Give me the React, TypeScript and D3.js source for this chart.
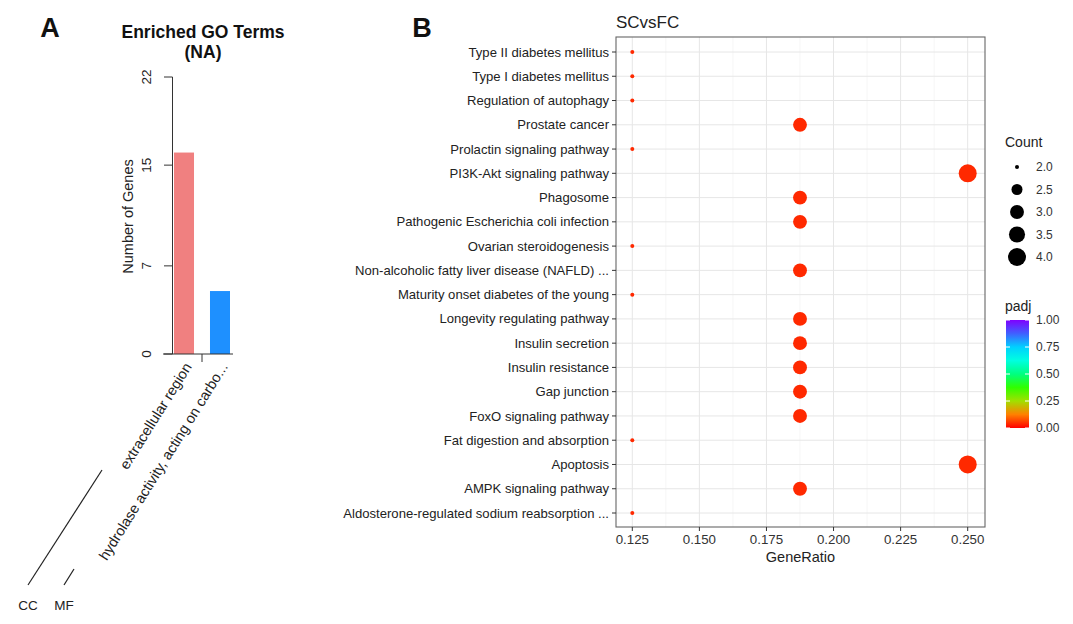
import * as d3 from "d3";
import { useEffect, useRef } from "react";

// Panel A: GO enrichment bars
const goTerms = ["extracellular region", "hydrolase activity, acting on carbo..."];
const goCounts = [16, 5];
const goColors = ["#F08080", "#1E90FF"];
const goTicks = [0, 7, 15, 22];
const goGroups = ["CC", "MF"];

// Panel B: KEGG dot plot, top to bottom
const keggTerms = [
  "Type II diabetes mellitus",
  "Type I diabetes mellitus",
  "Regulation of autophagy",
  "Prostate cancer",
  "Prolactin signaling pathway",
  "PI3K-Akt signaling pathway",
  "Phagosome",
  "Pathogenic Escherichia coli infection",
  "Ovarian steroidogenesis",
  "Non-alcoholic fatty liver disease (NAFLD) ...",
  "Maturity onset diabetes of the young",
  "Longevity regulating pathway",
  "Insulin secretion",
  "Insulin resistance",
  "Gap junction",
  "FoxO signaling pathway",
  "Fat digestion and absorption",
  "Apoptosis",
  "AMPK signaling pathway",
  "Aldosterone-regulated sodium reabsorption ...",
];
const keggCounts = [2, 2, 2, 3, 2, 4, 3, 3, 2, 3, 2, 3, 3, 3, 3, 3, 2, 4, 3, 2];
const keggRatio = [
  0.125, 0.125, 0.125, 0.1875, 0.125, 0.25, 0.1875, 0.1875, 0.125, 0.1875,
  0.125, 0.1875, 0.1875, 0.1875, 0.1875, 0.1875, 0.125, 0.25, 0.1875, 0.125,
];
const keggPadj = [
  0.04, 0.04, 0.04, 0.04, 0.04, 0.04, 0.04, 0.04, 0.04, 0.04,
  0.04, 0.04, 0.04, 0.04, 0.04, 0.04, 0.04, 0.04, 0.04, 0.04,
];
const ratioTicks = [0.125, 0.15, 0.175, 0.2, 0.225, 0.25];
const countLegend = [2.0, 2.5, 3.0, 3.5, 4.0];
const padjTicks = [0, 0.25, 0.5, 0.75, 1];

const FONT = "'Liberation Sans', Arial, Helvetica, sans-serif";

export default function App() {
  const ref = useRef<SVGSVGElement | null>(null);

  useEffect(() => {
    const svg = d3.select(ref.current);
    svg.selectAll("*").remove();
    svg.style("font-family", FONT);

    // ---------- Panel A ----------
    const a = svg.append("g");
    a.append("text").attr("x", 50).attr("y", 37).attr("text-anchor", "middle")
      .attr("font-size", 27).attr("font-weight", "bold").attr("fill", "#111").text("A");
    a.append("text").attr("x", 203).attr("y", 38).attr("text-anchor", "middle")
      .attr("font-size", 17.5).attr("font-weight", "bold").attr("fill", "#111").text("Enriched GO Terms");
    a.append("text").attr("x", 203).attr("y", 58).attr("text-anchor", "middle")
      .attr("font-size", 17.5).attr("font-weight", "bold").attr("fill", "#111").text("(NA)");

    const ay = d3.scaleLinear().domain([0, 22]).range([354, 77]);
    const ax = d3.scaleBand().domain(goTerms).range([174, 230]).paddingInner(0.444).paddingOuter(0);

    // y axis
    a.append("line").attr("x1", 172.5).attr("x2", 172.5).attr("y1", ay(0)).attr("y2", ay(22))
      .attr("stroke", "#333").attr("stroke-width", 1);
    goTicks.forEach((t) => {
      a.append("line").attr("x1", 164).attr("x2", 172.5).attr("y1", ay(t)).attr("y2", ay(t))
        .attr("stroke", "#333");
      a.append("text").attr("transform", `translate(151,${ay(t)}) rotate(-90)`)
        .attr("text-anchor", "middle").attr("font-size", 13.5).attr("fill", "#222").text(t);
    });
    a.append("text").attr("transform", `translate(133,${(ay(0) + ay(22)) / 2 + 1}) rotate(-90)`)
      .attr("text-anchor", "middle").attr("font-size", 14.5).attr("fill", "#222").text("Number of Genes");

    // bars
    a.selectAll("rect.bar").data(goTerms).join("rect")
      .attr("class", "bar")
      .attr("x", (d) => ax(d)!)
      .attr("width", ax.bandwidth())
      .attr("y", (d, i) => ay(goCounts[i]))
      .attr("height", (d, i) => ay(0) - ay(goCounts[i]))
      .attr("fill", (d, i) => goColors[i]);

    // baseline with a separator tick between categories
    a.append("line").attr("x1", 163).attr("x2", 233).attr("y1", ay(0)).attr("y2", ay(0))
      .attr("stroke", "#333");
    const mid = (ax(goTerms[0])! + ax.bandwidth() + ax(goTerms[1])!) / 2;
    a.append("line").attr("x1", mid).attr("x2", mid).attr("y1", ay(0)).attr("y2", ay(0) + 8)
      .attr("stroke", "#333");

    // rotated category labels
    goTerms.forEach((t) => {
      const cx = ax(t)! + ax.bandwidth() / 2 + 4;
      a.append("text").attr("transform", `translate(${cx},${ay(0) + 10}) rotate(-58)`)
        .attr("text-anchor", "end").attr("dy", "0.35em").attr("font-size", 14.5).attr("fill", "#222").text(t);
    });

    // ontology group labels with leader lines
    const groupX = d3.scalePoint().domain(goGroups).range([28, 64]);
    const leaderEnd = [[102, 470], [74, 569]];
    goGroups.forEach((g, i) => {
      a.append("line").attr("x1", groupX(g)!).attr("y1", 585)
        .attr("x2", leaderEnd[i][0]).attr("y2", leaderEnd[i][1])
        .attr("stroke", "#222").attr("stroke-width", 1.2);
      a.append("text").attr("x", groupX(g)!).attr("y", 610).attr("text-anchor", "middle")
        .attr("font-size", 13.5).attr("fill", "#222").text(g);
    });

    // ---------- Panel B ----------
    const b = svg.append("g");
    b.append("text").attr("x", 422).attr("y", 37).attr("text-anchor", "middle")
      .attr("font-size", 27).attr("font-weight", "bold").attr("fill", "#111").text("B");

    const left = 616, right = 985, top = 37, bottom = 527;
    const x = d3.scaleLinear().domain([0.125, 0.25]).range([632.3, 967.7]);
    const y = d3.scalePoint().domain(keggTerms).range([52, 513]);
    const r = d3.scaleSqrt().domain([0, 2]).range([2, 9]);
    const color = d3.scaleLinear<string>()
      .domain([0, 0.125, 0.25, 0.375, 0.5, 0.625, 0.75, 0.875, 1])
      .range(["#ff0000", "#ff8000", "#a0e000", "#30ff00", "#00ff80", "#00ffe0", "#00d0ff", "#4060ff", "#8000ff"]);

    b.append("text").attr("x", left).attr("y", 28).attr("font-size", 17).attr("fill", "#222").text("SCvsFC");

    // grid
    const minor = ratioTicks.slice(0, -1).map((t, i) => (t + ratioTicks[i + 1]) / 2);
    minor.forEach((t) => {
      b.append("line").attr("x1", x(t)).attr("x2", x(t)).attr("y1", top).attr("y2", bottom)
        .attr("stroke", "#f2f2f2").attr("stroke-width", 0.7);
    });
    ratioTicks.forEach((t) => {
      b.append("line").attr("x1", x(t)).attr("x2", x(t)).attr("y1", top).attr("y2", bottom)
        .attr("stroke", "#e6e6e6").attr("stroke-width", 1);
    });
    keggTerms.forEach((t) => {
      b.append("line").attr("x1", left).attr("x2", right).attr("y1", y(t)!).attr("y2", y(t)!)
        .attr("stroke", "#e6e6e6").attr("stroke-width", 1);
    });

    // points
    b.selectAll("circle.pt").data(keggTerms).join("circle")
      .attr("class", "pt")
      .attr("cx", (d, i) => x(keggRatio[i]))
      .attr("cy", (d) => y(d)!)
      .attr("r", (d, i) => r(keggCounts[i] - 2))
      .attr("fill", (d, i) => color(keggPadj[i]));

    // border
    b.append("rect").attr("x", left).attr("y", top).attr("width", right - left).attr("height", bottom - top)
      .attr("fill", "none").attr("stroke", "#666").attr("stroke-width", 1.1);

    // y axis labels and ticks
    keggTerms.forEach((t) => {
      b.append("line").attr("x1", left - 4).attr("x2", left).attr("y1", y(t)!).attr("y2", y(t)!)
        .attr("stroke", "#333");
      b.append("text").attr("x", left - 7).attr("y", y(t)!).attr("dy", "0.35em")
        .attr("text-anchor", "end").attr("font-size", 13.1).attr("fill", "#222").text(t);
    });

    // x axis
    ratioTicks.forEach((t) => {
      b.append("line").attr("x1", x(t)).attr("x2", x(t)).attr("y1", bottom).attr("y2", bottom + 4)
        .attr("stroke", "#333");
      b.append("text").attr("x", x(t)).attr("y", bottom + 17).attr("text-anchor", "middle")
        .attr("font-size", 13.3).attr("fill", "#333").text(d3.format(".3f")(t));
    });
    b.append("text").attr("x", (left + right) / 2).attr("y", 562).attr("text-anchor", "middle")
      .attr("font-size", 14.5).attr("fill", "#222").text("GeneRatio");

    // Count legend
    b.append("text").attr("x", 1005).attr("y", 147).attr("font-size", 14).attr("fill", "#222").text("Count");
    const ly = d3.scalePoint<number>().domain(countLegend).range([167, 257]);
    countLegend.forEach((c) => {
      b.append("circle").attr("cx", 1017).attr("cy", ly(c)!).attr("r", r(c - 2)).attr("fill", "#000");
      b.append("text").attr("x", 1036).attr("y", ly(c)!).attr("dy", "0.35em")
        .attr("font-size", 12).attr("fill", "#333").text(d3.format(".1f")(c));
    });

    // padj colour bar
    b.append("text").attr("x", 1005).attr("y", 311).attr("font-size", 14).attr("fill", "#222").text("padj");
    const cy = d3.scaleLinear().domain([0, 1]).range([428, 320]);
    const defs = svg.append("defs");
    const grad = defs.append("linearGradient").attr("id", "padjGrad")
      .attr("x1", 0).attr("x2", 0).attr("y1", 1).attr("y2", 0);
    d3.range(0, 1.0001, 0.125).forEach((s) => {
      grad.append("stop").attr("offset", s).attr("stop-color", color(s));
    });
    b.append("rect").attr("x", 1006).attr("y", cy(1)).attr("width", 23).attr("height", cy(0) - cy(1))
      .attr("fill", "url(#padjGrad)");
    padjTicks.forEach((t) => {
      b.append("line").attr("x1", 1006).attr("x2", 1010).attr("y1", cy(t)).attr("y2", cy(t)).attr("stroke", "#fff");
      b.append("line").attr("x1", 1025).attr("x2", 1029).attr("y1", cy(t)).attr("y2", cy(t)).attr("stroke", "#fff");
      b.append("text").attr("x", 1036).attr("y", cy(t)).attr("dy", "0.35em")
        .attr("font-size", 12).attr("fill", "#333").text(d3.format(".2f")(t));
    });
  }, []);

  return (
    <svg
      ref={ref}
      width={1073}
      height={624}
      style={{ position: "absolute", left: 0, top: 0, background: "#fff" }}
    />
  );
}
